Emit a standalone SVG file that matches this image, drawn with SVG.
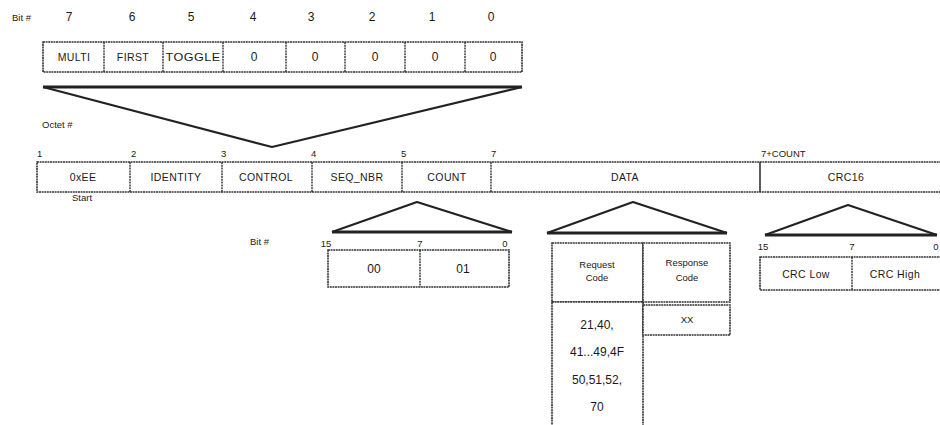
<svg xmlns="http://www.w3.org/2000/svg" width="940" height="425" viewBox="0 0 940 425">
<style>
text{font-family:"Liberation Sans",Arial,sans-serif;font-size:12px;fill:#1a1a1a;}
.c{text-anchor:middle;}
.s{font-size:10.5px;letter-spacing:0.4px;}
.t{font-size:9.5px;}
.box{fill:#fff;stroke:#333;stroke-width:1.6;stroke-dasharray:2 0.6;}
.div{stroke:#333;stroke-width:1.4;stroke-dasharray:2 0.8;fill:none;}
.tri{fill:none;stroke:#222;stroke-width:2.2;stroke-linejoin:round;}
.base{stroke:#222;stroke-width:3;}
</style>
<rect width="940" height="425" fill="#fff"/>

<g id="bit-header">
<text x="12" y="21" class="t">Bit #</text>
<text x="69" y="21" class="c">7</text>
<text x="132" y="21" class="c">6</text>
<text x="191" y="21" class="c">5</text>
<text x="253" y="21" class="c">4</text>
<text x="311" y="21" class="c">3</text>
<text x="372" y="21" class="c">2</text>
<text x="432" y="21" class="c">1</text>
<text x="491" y="21" class="c">0</text>
</g>

<g id="control-byte">
<rect class="box" x="43" y="42" width="479" height="30"/>
<path class="div" d="M104 42V72M163 42V72M223 42V72M286 42V72M345 42V72M405 42V72M465 42V72"/>
<text x="74" y="61" class="c s">MULTI</text>
<text x="133" y="61" class="c s">FIRST</text>
<text x="193" y="61" class="c s" textLength="55" lengthAdjust="spacingAndGlyphs">TOGGLE</text>
<text x="254" y="61" class="c">0</text>
<text x="315" y="61" class="c">0</text>
<text x="375" y="61" class="c">0</text>
<text x="435" y="61" class="c">0</text>
<text x="493" y="61" class="c">0</text>
</g>

<g id="octet-label"><text x="42" y="128" class="t">Octet #</text></g>

<g id="packet">
<text x="37" y="157" class="t">1</text>
<text x="131" y="157" class="t">2</text>
<text x="221" y="157" class="t">3</text>
<text x="311" y="157" class="t">4</text>
<text x="401" y="157" class="t">5</text>
<text x="491" y="157" class="t">7</text>
<text x="761" y="157" class="t">7+COUNT</text>
<rect class="box" x="37" y="162" width="910" height="30"/>
<path class="div" d="M130 162V192M222 162V192M312 162V192M402 162V192M491 162V192"/>
<path d="M760 162V192" stroke="#333" stroke-width="1.6"/>
<text x="83" y="181" class="c s">0xEE</text>
<text x="176" y="181" class="c s">IDENTITY</text>
<text x="266" y="181" class="c s">CONTROL</text>
<text x="357" y="181" class="c s">SEQ_NBR</text>
<text x="447" y="181" class="c s">COUNT</text>
<text x="625" y="181" class="c s">DATA</text>
<text x="846" y="181" class="c s">CRC16</text>
<text x="82" y="201" class="c t">Start</text>
</g>

<g id="count-field">
<text x="250" y="245" class="t">Bit #</text>
<text x="326" y="247" class="c t">15</text>
<text x="420" y="247" class="c t">7</text>
<text x="505" y="247" class="c t">0</text>
<rect class="box" x="328" y="250" width="181" height="37"/>
<path class="div" d="M420 250V287"/>
<text x="374" y="273" class="c">00</text>
<text x="463" y="273" class="c">01</text>
</g>

<g id="data-field">
<rect class="box" x="552" y="243" width="91" height="59"/>
<rect class="box" x="643" y="243" width="87" height="59"/>
<rect class="box" x="552" y="302" width="91" height="130"/>
<rect class="box" x="643" y="305" width="87" height="30"/>
<text x="597" y="268" class="c t">Request</text>
<text x="597" y="281" class="c t">Code</text>
<text x="687" y="266" class="c t">Response</text>
<text x="687" y="281" class="c t">Code</text>
<text x="597" y="329" class="c">21,40,</text>
<text x="597" y="356" class="c">41...49,4F</text>
<text x="597" y="384" class="c">50,51,52,</text>
<text x="597" y="411" class="c">70</text>
<text x="687" y="323" class="c t">XX</text>
</g>

<g id="crc-field">
<text x="763" y="250" class="c t">15</text>
<text x="852" y="250" class="c t">7</text>
<text x="936" y="250" class="c t">0</text>
<rect class="box" x="760" y="257" width="190" height="33"/>
<path class="div" d="M852 257V290"/>
<text x="806" y="278" class="c s">CRC Low</text>
<text x="895" y="278" class="c s">CRC High</text>
</g>

<g id="connectors">
<line class="base" x1="43" y1="87" x2="522" y2="87"/>
<polyline class="tri" points="43,87 272,147 522,87"/>
<line class="base" x1="332" y1="232" x2="512" y2="232"/>
<polyline class="tri" points="332,232 417,202 512,232"/>
<line class="base" x1="547" y1="233" x2="727" y2="233"/>
<polyline class="tri" points="547,233 633,202 727,233"/>
<line class="base" x1="765" y1="235" x2="937" y2="235"/>
<polyline class="tri" points="765,235 848,205 937,235"/>
</g>
</svg>
